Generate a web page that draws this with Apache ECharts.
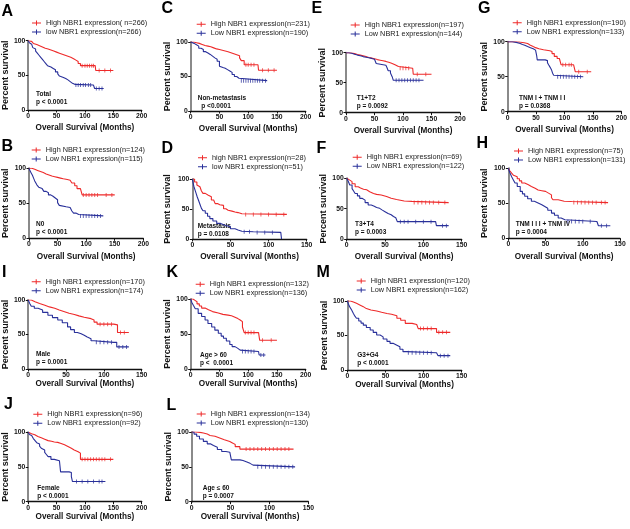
<!DOCTYPE html>
<html><head><meta charset="utf-8">
<script src="https://cdn.jsdelivr.net/npm/echarts@6/dist/echarts.min.js"></script>
<style>html,body{margin:0;padding:0;background:#fff}#c{width:630px;height:529px}</style>
</head><body><div id="c"></div><script>
// ---------- data ----------
const A_names = ['High NBR1 expression( n=266)', 'low NBR1 expression(n=266)'];
const A_notes = ['Total', 'p < 0.0001'];
const A_high = [[0,100],[3,99],[6,97.5],[9,96],[12,94.5],[15,93],[18,92],[22,90.5],[26,89],[30,88],[35,86.5],[40,85],[45,83.5],[50,82],[55,80.5],[60,79],[65,77.5],[70,76],[75,74],[80,72],[84,70],[88,67],[92,64],[118,64],[119,57],[150,57]];
const A_low = [[0,100],[2,97],[4,95],[6,93],[8,90],[10,88],[13,85],[16,82],[19,79],[22,76],[25,73],[28,70],[31,67],[34,64],[37,62],[40,60],[44,58],[48,55],[52,52],[55,49],[58,47],[62,45.5],[66,43.5],[70,41],[74,38.5],[78,37],[82,36],[115,36],[117,31],[133,31]];
const A_highC = [95,100,104,108,112,115,125,135,145];
const A_lowC = [84,88,92,97,101,106,110,120,125,130];

const C_names = ['High NBR1 expression(n=231)', 'Low NBR1 expression(n=190)'];
const C_notes = ['Non-metastasis', '  p <0.0001'];
const C_high = [[0,100],[5,99],[10,98],[15,96.5],[20,95],[25,94],[30,93],[35,91.5],[40,90],[45,89],[50,88],[55,87],[60,86],[65,84.5],[70,83],[75,81.5],[80,80],[85,77],[88,73],[93,67],[117,67],[118,59],[150,59]];
const C_low = [[0,100],[3,98],[6,96],[10,94],[14,91],[18,89],[22,86],[26,84],[30,82],[34,79.5],[38,77],[42,75],[46,72],[50,65],[52,63],[56,62],[60,60],[64,58],[68,56],[72,53],[76,50],[80,47.5],[84,45],[86,44],[133,44]];
const C_highC = [96,100,105,110,125,135,145];
const C_lowC = [88,92,96,100,104,108,112,116,120,125,130];

const E_names = ['High NBR1 expression(n=197)', 'Low NBR1 expression(n=144)'];
const E_notes = ['T1+T2', 'p = 0.0092'];
const E_high = [[0,100],[5,99.5],[10,98.5],[15,97],[20,96],[25,95],[30,93.5],[35,92],[40,91],[45,90],[50,88.5],[55,87.5],[60,86.5],[65,85.5],[70,84],[75,82.5],[80,80],[86,77],[92,74],[117,74],[118,64],[150,64]];
const E_low = [[0,100],[5,99],[10,97.5],[15,96],[20,95],[25,93.5],[30,92.5],[35,91.5],[40,90.5],[45,89],[50,87],[53,82],[54,79],[70,79],[72,75],[74,70],[78,66],[81,60],[83,54],[136,54]];
const E_highC = [95,100,105,110,125,140];
const E_lowC = [88,93,98,103,108,113,118,123,128];

const G_names = ['High NBR1 expression(n=190)', 'Low NBR1 expression(n=133)'];
const G_notes = ['TNM I + TNM I I', 'p = 0.0368'];
const G_high = [[0,100],[10,99.5],[20,98.5],[29,97.5],[35,95],[40,93],[45,91.5],[49,90],[55,88.5],[63,87],[74,86],[78,83],[82,79],[87,76],[91,74],[94,67],[116,67],[119,57],[147,57]];
const G_low = [[0,100],[8,99],[15,97.5],[22,96],[26,95],[30,93],[35,91.5],[40,90],[45,88],[49,86],[51,80],[52,74],[66,73],[70,70],[72,67],[75,63],[77,60],[79,55],[81,52],[84,50],[133,50]];
const G_highC = [97,102,108,112,125,140];
const G_lowC = [88,93,98,103,108,113,118,123,128];

const B_names = ['High NBR1 expression(n=124)', 'Low NBR1 expression(n=115)'];
const B_notes = ['N0', 'p < 0.0001'];
const B_high = [[0,100],[5,98.5],[10,97],[15,95.5],[20,94],[25,92],[30,90.5],[35,89],[40,88],[45,87],[50,86],[55,85],[60,84],[67,83],[72,80.5],[75,79],[80,75],[84,71],[90,69],[93,62],[150,62]];
const B_low = [[0,100],[2,96],[4,93],[6,90],[8,86],[10,82],[12,79],[14,76],[17,73],[20,71],[23,69],[26,67],[30,65],[34,62],[38,60],[42,57.5],[46,55],[50,51],[53,47],[55,45],[65,44],[72,43],[75,39],[78,36],[82,34],[87,32],[130,32]];
const B_highC = [95,100,105,110,115,120,135,145];
const B_lowC = [90,95,100,105,110,115,120,125];

const D_names = ['high NBR1 expression(n=28)', 'low NBR1 expression(n=51)'];
const D_notes = ['Metastasis', 'p = 0.0108'];
const D_high = [[0,100],[3,95],[6,90],[8,87],[10,84],[12,80],[14,76],[17,73],[21,70.5],[25,65],[28,62],[30,59],[33,57],[36,56],[41,50.5],[44,48],[47,46.5],[52,45],[56,44],[60,42],[65,41],[124,41]];
const D_low = [[0,100],[1,94],[2,88],[3.5,82],[5,76],[6.5,70],[8,65],[10,58],[12,51],[14,47],[17,43],[20,38],[23,34],[27,30],[32,26],[37,23],[43,20.5],[50,17],[56,15],[60,13],[65,12],[80,11],[116,11],[117,0]];
const D_highC = [70,80,90,100,110,120];
const D_lowC = [68,75,85,95,105];

const F_names = ['High NBR1 expression(n=69)', 'Low NBR1 expression(n=122)'];
const F_notes = ['T3+T4', 'p = 0.0003'];
const F_high = [[0,100],[2,97],[4,94.5],[7,91],[11,86],[15,84],[18,82],[22,81],[26,78],[30,75],[35,73.5],[39,72.5],[45,70],[52,67],[58,65],[65,62.5],[75,62],[85,60],[133,60]];
const F_low = [[0,100],[2,95],[4,89],[7,83],[9,79],[11,75],[14,71],[17,67],[20,64],[24,60],[28,56],[32,54],[36,52],[39,50.5],[43,48],[46,45],[50,42],[54,40],[58,37],[61,35],[64,32],[66,28.6],[116,28.6],[117,22],[133,22]];
const F_highC = [88,93,98,103,108,113,120,128];
const F_lowC = [70,75,80,90,100,110,125,130];

const H_names = ['High NBR1 expression(n=75)', 'Low NBR1 expression(n=131)'];
const H_notes = ['TNM I I I + TNM IV', 'p = 0.0004'];
const H_high = [[0,100],[2,96.5],[4.5,93],[7,90],[9,88],[12,85],[15,82],[18,79],[22,76.5],[27,74],[31,71.5],[36,69],[40,68],[45,67],[50,64.5],[54,62],[58,58],[60,55],[67,53],[75,52.5],[85,51],[134,51]];
const H_low = [[0,100],[2,94],[4.5,88],[7,83],[9,79],[12,74],[16,67],[19,63.5],[22,60],[26,56.5],[31,53],[35,50.5],[40,48],[45,45.5],[49,43],[53,40],[58,36],[62,33],[67,29],[71,26.5],[76,24],[119,24],[121,18],[137,18]];
const H_highC = [88,93,98,103,108,113,118,125,130];
const H_lowC = [80,85,90,95,100,110,125,132];

const I_names = ['High NBR1 expression(n=170)', 'Low NBR1 expression(n=174)'];
const I_notes = ['Male', 'p = 0.0001'];
const I_high = [[0,100],[4,97.5],[9,95],[15,92.5],[22,90],[28,88],[35,85.5],[41,83],[48,80.7],[54,79],[61,77],[67,75],[74,73],[83,71],[87,68],[91,65],[113,64],[118,53],[133,53]];
const I_low = [[0,100],[2,95],[4,91],[8,88],[13,85.5],[19,82],[26,78],[32,74.5],[39,71],[45,67],[52,61],[56,57],[61,53],[65,51],[70,49],[74,46.5],[78,44],[83,41],[87,38.6],[113,38.6],[117,32],[133,32]];
const I_highC = [95,100,105,110,122,127];
const I_lowC = [90,95,100,105,110,120,125,130];

const K_names = ['High NBR1 expression(n=132)', 'Low NBR1 expression(n=136)'];
const K_notes = ['Age > 60', 'p <  0.0001'];
const K_high = [[0,100],[4,98],[7.5,96],[11,93],[15,90],[19,87],[25,84.5],[31,82],[38,80],[48,78],[56,77],[65,76],[71,74],[77,72],[82,70],[86,67.6],[90,60],[93,52],[118,52],[120,41],[150,41]];
const K_low = [[0,100],[2,95],[4.6,91],[8,86],[13,79.5],[19,75],[25,70],[30,65],[36.5,60],[42,55.5],[48,51],[53,47],[57,44],[62,40],[68,35],[72,32],[77,29.5],[82,27],[86,25],[118,25],[119,20],[130,20]];
const K_highC = [95,100,105,110,125,140];
const K_lowC = [90,95,100,105,110,122,127];

const M_names = ['High NBR1 expression(n=120)', 'Low NBR1 expression(n=162)'];
const M_notes = ['G3+G4', 'p < 0.0001'];
const M_high = [[0,100],[4,98.5],[8,96.6],[12,94],[17,91.8],[21,89],[25,87],[31,85.5],[38.5,83.6],[45,82],[52,80.7],[58,78.5],[65,75],[70,72],[76,67.6],[85,66],[91,65],[93,60],[113,60],[117,54.6],[135,54.6]];
const M_low = [[0,100],[2,94],[4,90],[5.7,87],[8,82],[10,78],[12,75],[15,71],[18,68],[21,65],[25,61.5],[30,58],[34,54.5],[38.5,50.7],[43,48],[47,45],[52,41.5],[56,38.6],[60,36],[65,33.8],[69,30],[73,26.6],[78,25],[117,25],[119,20.8],[135,20.8]];
const M_highC = [96,100,105,110,120,125,130];
const M_lowC = [80,85,90,95,100,105,110,122,127,132];

const J_names = ['High NBR1 expression(n=96)', 'Low NBR1 expression(n=92)'];
const J_notes = ['Female', 'p < 0.0001'];
const J_high = [[0,100],[3,98],[6,96.5],[11.6,94],[17,92],[23,90],[29,88],[35,87],[41,86],[46,85.5],[52,84],[58,82],[64,79.5],[70,77],[76,74.5],[81,72],[88,70],[92,61],[150,61]];
const J_low = [[0,100],[2,97],[4,95.5],[6,94],[9,91],[12,88],[15,85],[17,83],[20,80],[23,77],[26,74.5],[29,71],[32,68],[35,65],[40,61],[46,59],[55,58],[57,43],[72,42],[76,36],[78,29],[136,29]];
const J_highC = [95,100,105,110,115,120,125,130,135,145];
const J_lowC = [85,95,105,115,125,130];

const L_names = ['High NBR1 expression(n=134)', 'Low NBR1 expression(n=130)'];
const L_notes = ['Age \u2264 60', 'p = 0.0007'];
const L_high = [[0,100],[5,99.5],[10.7,98.6],[15,97],[20,95],[23.6,94],[30,91.5],[36,89],[42,86.5],[49,84],[53,82],[56,79],[62,75.5],[131,75.5]];
const L_low = [[0,100],[3,97],[6.4,94],[10,90],[15,86.5],[20,83],[24,80.5],[28,78],[33,75],[38.6,72],[44,71],[49,70],[51,60],[62,59],[66,57],[71,55],[75,52.5],[79,50],[133,50]];
const L_highC = [70,75,80,85,90,95,100,105,110,115,120,125];
const L_lowC = [85,90,95,100,105,110,115,120,125,130];

const yTicks = [0, 50, 100];
const xTitle = 'Overall Survival (Months)';
const yTitle = 'Percent survival';

// ---------- layout (pixel positions, styles) ----------
const panels = [
 {id:'A', d:[A_names,A_notes,A_high,A_low,A_highC,A_lowC], l:26,   t:40.7, w:115.7,h:69.3,xmax:200, let:[1.5,12.5], leg:[32,19],   note:[36,94.3],  yg:16.5, xg:14},
 {id:'C', d:[C_names,C_notes,C_high,C_low,C_highC,C_lowC], l:190.7,t:42,   w:115,  h:69,  xmax:200, let:[161.5,10], leg:[196.7,20.3],note:[197.7,98.3],yg:18, xg:14},
 {id:'E', d:[E_names,E_notes,E_high,E_low,E_highC,E_lowC], l:346,  t:52.7, w:114,  h:60,  xmax:200, let:[311.5,9.5], leg:[350.7,21], note:[356.7,99], yg:18.5, xg:14},
 {id:'G', d:[G_names,G_notes,G_high,G_low,G_highC,G_lowC], l:507.7,t:41.7, w:119,  h:70,  xmax:200, let:[478,9.5], leg:[512.7,18.7],note:[519,98.3], yg:16.5, xg:14},
 {id:'B', d:[B_names,B_notes,B_high,B_low,B_highC,B_lowC], l:28.3, t:168.3,w:115,  h:70,  xmax:200, let:[1.5,148], leg:[31.7,146],  note:[36,224.3], yg:19, xg:14},
 {id:'D', d:[D_names,D_notes,D_high,D_low,D_highC,D_lowC], l:192.3,t:179,  w:114.4,h:60,  xmax:150, let:[161.5,149.5],leg:[198,153.7],note:[197.7,226.7],yg:20, xg:14},
 {id:'F', d:[F_names,F_notes,F_high,F_low,F_highC,F_lowC], l:346.7,t:178.3,w:115,  h:60.7,xmax:150, let:[316.5,149.5],leg:[352.7,153.3],note:[355,225], yg:19, xg:14},
 {id:'H', d:[H_names,H_notes,H_high,H_low,H_highC,H_lowC], l:508.3,t:168.3,w:111.7,h:70,  xmax:150, let:[476.5,144.5],leg:[514,147], note:[515.7,225], yg:19, xg:14},
 {id:'I', d:[I_names,I_notes,I_high,I_low,I_highC,I_lowC], l:26.7, t:300,  w:115,  h:69,  xmax:150, let:[2,273.5], leg:[31.7,277.7],note:[36,354.3], yg:17, xg:10},
 {id:'K', d:[K_names,K_notes,K_high,K_low,K_highC,K_lowC], l:190.7,t:299,  w:115,  h:70,  xmax:200, let:[166.5,273.5],leg:[195.7,280.3],note:[200,355.7],yg:18, xg:10},
 {id:'M', d:[M_names,M_notes,M_high,M_low,M_highC,M_lowC], l:347.3,t:301,  w:114.4,h:69,  xmax:150, let:[316.5,273.5],leg:[356.7,277],note:[357.3,355.7],yg:18, xg:10},
 {id:'J', d:[J_names,J_notes,J_high,J_low,J_highC,J_lowC], l:26.7, t:432.3,w:115,  h:69.4,xmax:200, let:[4,405.5], leg:[33.3,410.3],note:[37.3,488.3],yg:17, xg:11},
 {id:'L', d:[L_names,L_notes,L_high,L_low,L_highC,L_lowC], l:191.7,t:432,  w:116.6,h:69.7,xmax:150, let:[166.5,406.5],leg:[196.7,410],note:[202.7,488.3],yg:17, xg:11}
];

const RED = '#ee2a2a', BLUE = '#29309a';
const FF = '"Liberation Sans", Arial, Helvetica, sans-serif';
const tickIcon = 'path://M0,2h9v1h-9z M4,0h1v5h-1z';

function survAt(curve, t) {
  let v = curve[0][1];
  for (const p of curve) { if (p[0] <= t) v = p[1]; else break; }
  return v;
}

const grid = [], xAxis = [], yAxis = [], series = [], legend = [], graphic = [];
panels.forEach((p, i) => {
  const [names, notes, hi, lo, hiC, loC] = p.d;
  grid.push({left: p.l, top: p.t, width: p.w, height: p.h, containLabel: false});
  xAxis.push({
    gridIndex: i, type: 'value', min: 0, max: p.xmax, interval: 50,
    name: xTitle, nameLocation: 'middle', nameGap: p.xg,
    nameTextStyle: {fontFamily: FF, fontSize: 8.2, fontWeight: 'bold', color: '#111'},
    axisLine: {show: true, lineStyle: {color: '#111', width: 1.3}},
    axisTick: {show: true, length: 2.5, lineStyle: {color: '#111', width: 1}},
    axisLabel: {fontFamily: FF, fontSize: 6.8, fontWeight: 'bold', color: '#111', margin: 2.5},
    splitLine: {show: false}
  });
  yAxis.push({
    gridIndex: i, type: 'value', min: yTicks[0], max: yTicks[2], interval: yTicks[1] - yTicks[0],
    name: yTitle, nameLocation: 'middle', nameGap: p.yg,
    nameTextStyle: {fontFamily: FF, fontSize: 9, fontWeight: 'bold', color: '#111'},
    axisLine: {show: true, lineStyle: {color: '#8a8a8a', width: 2}},
    axisTick: {show: true, length: 2.5, lineStyle: {color: '#111', width: 1}},
    axisLabel: {fontFamily: FF, fontSize: 6.8, fontWeight: 'bold', color: '#111', margin: 3},
    splitLine: {show: false}
  });
  [[hi, hiC, names[0], RED], [lo, loC, names[1], BLUE]].forEach(([curve, cens, nm, col]) => {
    series.push({
      type: 'line', name: nm, xAxisIndex: i, yAxisIndex: i, data: curve, step: 'end',
      symbol: 'none', showSymbol: false, lineStyle: {color: col, width: 1.1}, itemStyle: {color: col},
      animation: false, silent: true, z: 3
    });
    series.push({
      type: 'scatter', name: nm, xAxisIndex: i, yAxisIndex: i,
      data: cens.map(t => [t, survAt(curve, t)]),
      symbol: 'rect', symbolSize: [0.9, 4], itemStyle: {color: col},
      animation: false, silent: true, z: 4
    });
  });
  legend.push({
    orient: 'vertical', left: p.leg[0], top: p.leg[1], padding: 0, itemGap: 1,
    itemWidth: 9, itemHeight: 5, selectedMode: false,
    data: [{name: names[0], icon: tickIcon, itemStyle: {color: RED}}, {name: names[1], icon: tickIcon, itemStyle: {color: BLUE}}],
    textStyle: {fontFamily: FF, fontSize: 7.3, color: '#222', lineHeight: 8}
  });
  graphic.push({type: 'text', left: p.let[0], top: p.let[1] - 9,
    style: {text: p.id, font: 'bold 16px ' + FF, fill: '#000'}});
  notes.forEach((tx, k) => {
    graphic.push({type: 'text', left: p.note[0], top: p.note[1] - 4 + k * 8,
      style: {text: tx, font: 'bold 6.5px ' + FF, fill: '#111'}});
  });
});

const chart = echarts.init(document.getElementById('c'), null, {renderer: 'canvas'});
chart.setOption({animation: false, backgroundColor: '#fff', grid, xAxis, yAxis, series, legend, graphic});
</script></body></html>
